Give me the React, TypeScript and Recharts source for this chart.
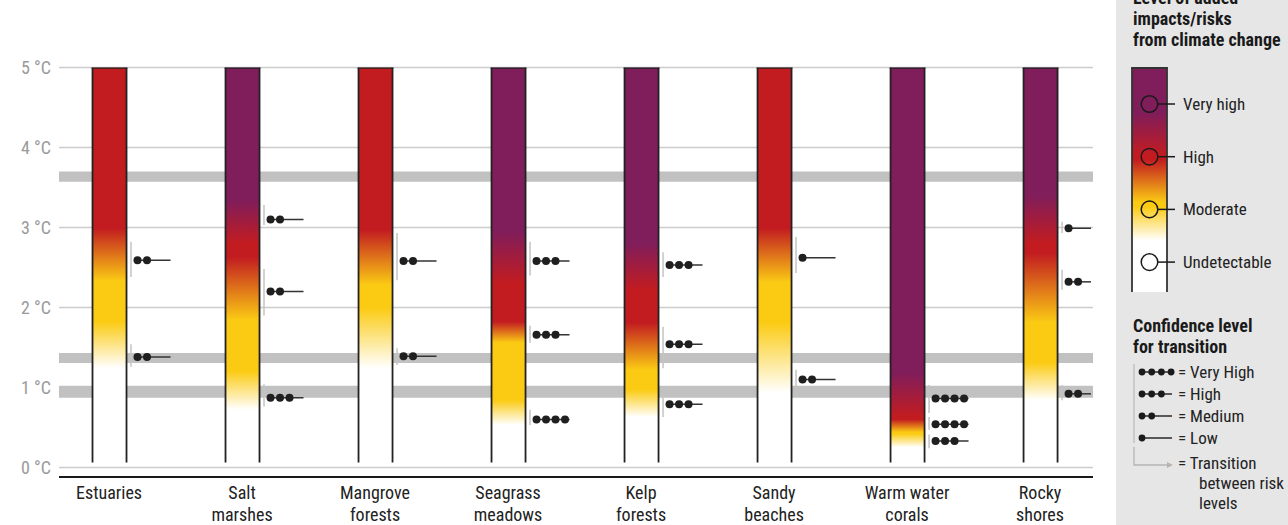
import React from 'react';
import { ComposedChart, Bar, XAxis, YAxis, CartesianGrid, ReferenceArea } from 'recharts';

// ---------- data ----------
const categories: string[][] = [
  ['Estuaries'],
  ['Salt', 'marshes'],
  ['Mangrove', 'forests'],
  ['Seagrass', 'meadows'],
  ['Kelp', 'forests'],
  ['Sandy', 'beaches'],
  ['Warm water', 'corals'],
  ['Rocky', 'shores'],
];
const categoryIndex = [0, 1, 2, 3, 4, 5, 6, 7];
const emberBase = 0.06;
const emberTop = 5;

// transitions: [temperature where lower level is full, temperature where upper level is full]
const undetectableToModerate: number[][] = [
  [1.24, 1.82], [0.72, 1.2], [1.24, 1.99], [0.53, 0.84],
  [0.63, 0.97], [0.93, 1.81], [0.25, 0.42], [0.84, 1.31],
];
const moderateToHigh: number[][] = [
  [2.33, 2.99], [1.84, 2.63], [2.28, 2.97], [1.56, 1.82],
  [1.22, 1.81], [2.31, 2.99], [0.44, 0.6], [1.81, 2.68],
];
const highToVeryHigh: (number[] | null)[] = [
  null, [2.8, 3.34], null, [2.3, 2.95],
  [2.22, 2.8], null, [0.63, 1.18], [2.8, 3.4],
];

// confidence markers: category, range low, range high, dot position, number of dots
const markerCategory = [0, 0, 1, 1, 1, 2, 2, 3, 3, 3, 4, 4, 4, 5, 5, 6, 6, 6, 7, 7, 7];
const markerLow = [2.38, 1.26, 3.03, 1.9, 0.76, 2.34, 1.28, 2.4, 1.56, 0.53, 2.38, 1.24, 0.63, 2.43, 0.97, 0.68, 0.47, 0.24, 2.93, 2.22, 0.84];
const markerHigh = [2.82, 1.54, 3.28, 2.48, 1.04, 2.93, 1.49, 2.82, 1.77, 0.72, 2.69, 1.76, 0.93, 2.88, 1.22, 1.03, 0.63, 0.41, 3.07, 2.47, 1.03];
const markerAt = [2.59, 1.38, 3.1, 2.2, 0.87, 2.58, 1.39, 2.58, 1.66, 0.6, 2.53, 1.54, 0.79, 2.62, 1.1, 0.86, 0.54, 0.33, 2.99, 2.32, 0.92];
const markerDots = [2, 2, 2, 2, 3, 2, 2, 3, 3, 4, 3, 3, 3, 1, 2, 4, 4, 3, 1, 2, 2];

const yTicks = [0, 1, 2, 3, 4, 5];
const bandLow = [0.87, 1.305, 3.57];
const bandHigh = [1.02, 1.43, 3.7];

const riskLevels = ['Very high', 'High', 'Moderate', 'Undetectable'];
const confidenceLevels = ['Very High', 'High', 'Medium', 'Low'];
const confidenceDots = [4, 3, 2, 1];

// ---------- styles ----------
const FONT = "'Liberation Sans Narrow', 'Roboto Condensed', 'DejaVu Sans Condensed', Roboto, sans-serif";
const WHITE = '#ffffff';
const YELLOW = '#fbcb14';
const RED = '#c21c20';
const PURPLE = '#801d5b';

const W = 1288;
const H = 525;
const MARGIN = { top: 67.5, right: 195, left: 0, bottom: 0 };
const PLOT_RIGHT = W - MARGIN.right;

const chartData = categoryIndex.map((i) => ({ idx: i, range: [emberBase, emberTop] }));

function EmberShape(props: any) {
  const { x, y, width, height, index } = props;
  const span = emberTop - emberBase;
  const py = (t: number) => y + ((emberTop - t) * height) / span;
  const off = (t: number) => Math.max(0, Math.min(1, (emberTop - t) / span));
  const hv = highToVeryHigh[index];
  const mh = moderateToHigh[index];
  const um = undetectableToModerate[index];
  const stops: [number, string][] = [];
  stops.push([0, hv ? PURPLE : RED]);
  if (hv) {
    stops.push([off(hv[1]), PURPLE]);
    stops.push([off(hv[0]), RED]);
  }
  stops.push([off(mh[1]), RED]);
  stops.push([off(mh[0]), YELLOW]);
  stops.push([off(um[1]), YELLOW]);
  stops.push([off(um[0]), WHITE]);
  stops.push([1, WHITE]);
  const id = `ember-${index}`;
  const xr = x + width;
  const marks = markerCategory
    .map((c, k) => ({ c, k }))
    .filter((m) => m.c === index)
    .map(({ k }) => {
      const cy = py(markerAt[k]);
      const dots = [];
      for (let d = 0; d < markerDots[k]; d++) {
        dots.push(<circle key={d} cx={xr + 11 + d * 9.5} cy={cy} r={4} fill="#1f1f1f" />);
      }
      const lineEnd = Math.min(xr + 44, PLOT_RIGHT - 2);
      return (
        <g key={k}>
          <line x1={xr + 4.5} x2={xr + 4.5} y1={py(markerHigh[k])} y2={py(markerLow[k])} stroke="#c4c4c4" strokeWidth={1.5} />
          <line x1={xr + 11} x2={lineEnd} y1={cy} y2={cy} stroke="#333" strokeWidth={1.5} />
          {dots}
        </g>
      );
    });
  return (
    <g>
      <defs>
        <linearGradient id={id} x1="0" y1="0" x2="0" y2="1">
          {stops.map(([o, c], i) => (
            <stop key={i} offset={o} stopColor={c} />
          ))}
        </linearGradient>
      </defs>
      <rect x={x} y={y} width={width} height={height} fill={`url(#${id})`} />
      <line x1={x} x2={x} y1={y} y2={y + height} stroke="#222" strokeWidth={1.8} />
      <line x1={xr} x2={xr} y1={y} y2={y + height} stroke="#222" strokeWidth={1.8} />
      <line x1={x - 0.9} x2={xr + 0.9} y1={y} y2={y} stroke="#222" strokeWidth={2.4} />
      {marks}
    </g>
  );
}

function CategoryTick(props: any) {
  const { x, y, payload } = props;
  const lines = categories[payload.value] || [];
  return (
    <text x={x} y={y} textAnchor="middle" fontFamily={FONT} fontSize={18} fill="#222">
      {lines.map((l, i) => (
        <tspan key={i} x={x} dy={i === 0 ? 14 : 22}>
          {l}
        </tspan>
      ))}
    </text>
  );
}

function Legend() {
  const ex = 1132;
  const ey = 68;
  const ew = 35;
  const eh = 224;
  return (
    <svg width={W} height={H} style={{ position: 'absolute', left: 0, top: 0, pointerEvents: 'none' }}>
      <rect x={1116} y={0} width={W - 1116} height={H} fill="#e6e6e6" />
      <g fontFamily={FONT} fontWeight="bold" fontSize={18} fill="#1a1a1a">
        <text x={1133} y={4}>Level of added</text>
        <text x={1133} y={25}>impacts/risks</text>
        <text x={1133} y={46}>from climate change</text>
      </g>
      <defs>
        <linearGradient id="legendEmber" x1="0" y1="0" x2="0" y2="1">
          <stop offset={0} stopColor={PURPLE} />
          <stop offset={0.2} stopColor={PURPLE} />
          <stop offset={0.39} stopColor={RED} />
          <stop offset={0.41} stopColor={RED} />
          <stop offset={0.6} stopColor={YELLOW} />
          <stop offset={0.62} stopColor={YELLOW} />
          <stop offset={0.77} stopColor={WHITE} />
          <stop offset={1} stopColor={WHITE} />
        </linearGradient>
      </defs>
      <rect x={ex} y={ey} width={ew} height={eh} fill="url(#legendEmber)" />
      <line x1={ex} x2={ex} y1={ey} y2={ey + eh} stroke="#333" strokeWidth={1.8} />
      <line x1={ex + ew} x2={ex + ew} y1={ey} y2={ey + eh} stroke="#333" strokeWidth={1.8} />
      <line x1={ex - 0.9} x2={ex + ew + 0.9} y1={ey} y2={ey} stroke="#333" strokeWidth={1.8} />
      {riskLevels.map((lv, i) => {
        const cy = 104 + i * 52.7;
        return (
          <g key={lv}>
            <circle cx={1149.5} cy={cy} r={8.3} fill={i === 3 ? WHITE : 'none'} stroke="#1a1a1a" strokeWidth={1.5} />
            <line x1={1157.8} x2={1175} y1={cy} y2={cy} stroke="#1a1a1a" strokeWidth={1.5} />
            <text x={1183} y={cy + 6} fontFamily={FONT} fontSize={17} fill="#222">
              {lv}
            </text>
          </g>
        );
      })}
      <g fontFamily={FONT} fontWeight="bold" fontSize={18} fill="#1a1a1a">
        <text x={1133} y={332}>Confidence level</text>
        <text x={1133} y={353}>for transition</text>
      </g>
      <line x1={1134} x2={1134} y1={364} y2={443} stroke="#bdbdbd" strokeWidth={1.3} />
      {confidenceLevels.map((lv, i) => {
        const cy = 372 + i * 22;
        const dots = [];
        for (let d = 0; d < confidenceDots[i]; d++) {
          dots.push(<circle key={d} cx={1142 + d * 9.7} cy={cy} r={3.4} fill="#1a1a1a" />);
        }
        return (
          <g key={lv}>
            <line x1={1142} x2={1172} y1={cy} y2={cy} stroke="#1a1a1a" strokeWidth={1.4} />
            {dots}
            <text x={1178} y={cy + 6} fontFamily={FONT} fontSize={17} fill="#222">
              = {lv}
            </text>
          </g>
        );
      })}
      <polyline points="1134,447 1134,465 1168,465" fill="none" stroke="#b5b5b5" strokeWidth={1.3} />
      <polygon points="1167,462 1173,465 1167,468" fill="#b5b5b5" />
      <g fontFamily={FONT} fontSize={17} fill="#222">
        <text x={1178} y={469}>= Transition</text>
        <text x={1199} y={489}>between risk</text>
        <text x={1199} y={509}>levels</text>
      </g>
    </svg>
  );
}

export default function App() {
  return (
    <div style={{ position: 'absolute', left: 0, top: 0, width: W, height: H, background: '#fff', overflow: 'hidden' }}>
      <ComposedChart width={W} height={H} data={chartData} margin={MARGIN}>
        <CartesianGrid horizontal vertical={false} stroke="#cccccc" strokeWidth={1.5} />
        {bandLow.map((b, i) => (
          <ReferenceArea key={i} y1={b} y2={bandHigh[i]} fill="#c2c1c2" fillOpacity={1} stroke="none" />
        ))}
        <XAxis
          dataKey="idx"
          type="number"
          domain={[-0.376, 7.398]}
          ticks={categoryIndex}
          allowDataOverflow
          tickLine={false}
          axisLine={{ stroke: '#1a1a1a', strokeWidth: 2 }}
          tick={<CategoryTick />}
          height={48}
          interval={0}
        />
        <YAxis
          type="number"
          domain={[-0.12, 5]}
          ticks={yTicks}
          allowDataOverflow
          width={59}
          axisLine={false}
          tickLine={false}
          tickFormatter={(v: number) => `${v} °C`}
          tick={{ fill: '#9a9a9a', fontSize: 18, fontFamily: FONT }}
        />
        <Bar dataKey="range" barSize={34} isAnimationActive={false} shape={<EmberShape />} />
      </ComposedChart>
      <Legend />
    </div>
  );
}
